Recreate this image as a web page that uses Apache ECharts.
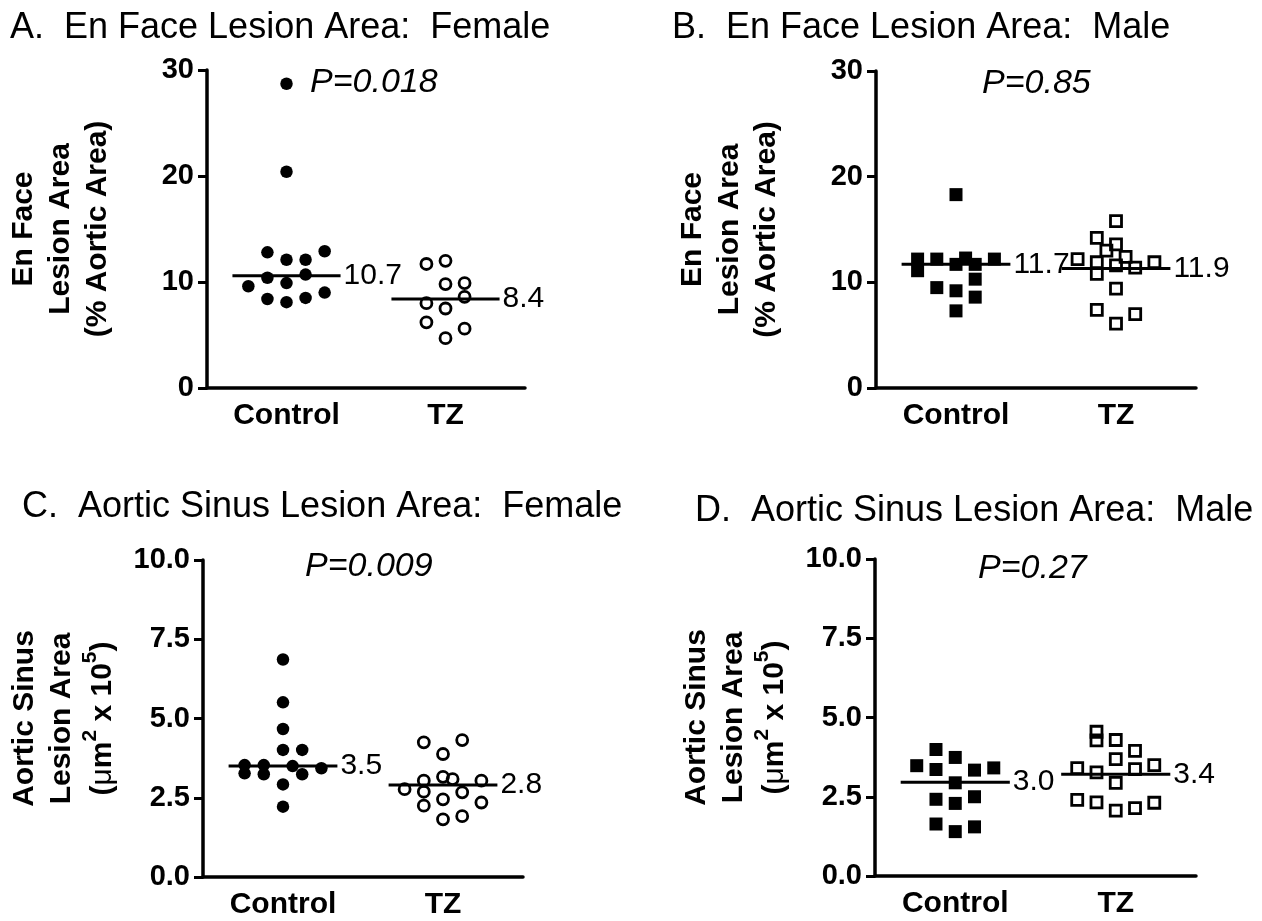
<!DOCTYPE html>
<html>
<head>
<meta charset="utf-8">
<title>Lesion Area</title>
<script src="https://cdn.jsdelivr.net/npm/echarts@6/dist/echarts.min.js"></script>
<style>
  html, body { margin: 0; padding: 0; background: #fff; }
  #chart { width: 1262px; height: 921px; }
</style>
</head>
<body>
<div id="chart"></div>
<script>
const groups = ["Control", "TZ"];

// A. en face, female (col = position in the dot column, 0 = centre)
const aCtrlVal = [28.7, 20.4, 12.8, 12.9, 12.1, 12.1, 10.4, 9.9, 10.7, 9.6, 8.4, 8.1, 8.5, 9.0];
const aCtrlCol = [0, 0, -1, 2, 0, 1, -1, 0, 1, -2, -1, 0, 1, 2];
const aTzVal = [11.7, 12.0, 9.8, 9.9, 8.6, 8.0, 7.5, 6.2, 5.6, 4.7];
const aTzCol = [-1, 0, 0, 1, 1, -1, 0, -1, 1, 0];
const aMedLine = [10.6, 8.4];
const aMedText = ["10.7", "8.4"];

// B. en face, male
const bCtrlVal = [18.3, 12.2, 12.2, 12.3, 12.2, 11.1, 11.7, 11.7, 10.3, 9.5, 9.2, 8.6, 7.3];
const bCtrlCol = [0, -2, -1, 0.5, 2, -2, 0, 1, 1, -1, 0, 1, 0];
const bTzVal = [15.8, 14.2, 13.6, 13.0, 12.4, 12.2, 11.9, 11.9, 11.6, 11.4, 10.8, 9.4, 7.4, 7.0, 6.1];
const bTzCol = [0, -1, 0, -0.5, 0.5, -2, 2, -1, 0, 1, -1, 0, -1, 1, 0];
const bMedLine = [11.7, 11.3];
const bMedText = ["11.7", "11.9"];

// C. aortic sinus, female
const cCtrlVal = [6.86, 5.51, 4.67, 4.01, 4.01, 3.53, 3.53, 3.27, 3.24, 3.50, 3.24, 3.43, 2.92, 2.22];
const cCtrlCol = [0, 0, 0, 0, 1, -2, -1, -2, -1, 0.5, 1, 2, 0, 0];
const cTzVal = [4.25, 4.32, 3.88, 3.16, 3.09, 3.04, 2.77, 3.04, 2.69, 2.67, 2.45, 2.35, 2.25, 1.82, 1.92];
const cTzCol = [-1, 1, 0, 0, 0.5, -1, -2, 2, -1, 1, 0, 2, -1, 0, 1];
const cMedLine = [3.5, 2.9];
const cMedText = ["3.5", "2.8"];

// D. aortic sinus, male
const dCtrlVal = [3.99, 3.74, 3.48, 3.36, 3.34, 3.41, 2.94, 2.42, 2.29, 2.50, 1.64, 1.40, 1.55];
const dCtrlCol = [-1, 0, -2, -1, 1, 2, 0, -1, 0, 1, -1, 0, 1];
const dTzVal = [4.55, 4.28, 4.29, 3.95, 3.69, 3.40, 3.27, 3.37, 3.50, 2.94, 2.40, 2.32, 2.06, 2.14, 2.31];
const dTzCol = [-1, -1, 0, 1, 0, -2, -1, 1, 2, 0, -2, -1, 0, 1, 2];
const dMedLine = [2.96, 3.21];
const dMedText = ["3.0", "3.4"];

const pTexts = ["P=0.018", "P=0.85", "P=0.009", "P=0.27"];
const titles = [
  "A.  En Face Lesion Area:  Female",
  "B.  En Face Lesion Area:  Male",
  "C.  Aortic Sinus Lesion Area:  Female",
  "D.  Aortic Sinus Lesion Area:  Male"
];

const FONT = "'Liberation Sans', Arial, Helvetica, sans-serif";
const COL_STEP = 0.12;
const HALF_LINE = 0.34;

const enFaceName = "En Face\nLesion Area\n(% Aortic Area)";
const sinusName = "Aortic Sinus\nLesion Area\n{c|(}{mu|μ}{c|m}{s|2}{c| x 10}{s|5}{c|)}";

const panels = [
  { ctrl: [aCtrlVal, aCtrlCol], tz: [aTzVal, aTzCol], med: aMedLine, medText: aMedText, yMax: 30, yStep: 10, digits: 0, shape: "circle", name: enFaceName, nameGap: 91,
    box: { left: 207, top: 70, width: 318, height: 318 }, title: [10, 10], p: [310, 66] },
  { ctrl: [bCtrlVal, bCtrlCol], tz: [bTzVal, bTzCol], med: bMedLine, medText: bMedText, yMax: 30, yStep: 10, digits: 0, shape: "rect", name: enFaceName, nameGap: 91,
    box: { left: 876, top: 71, width: 320, height: 317 }, title: [672, 10], p: [982, 67] },
  { ctrl: [cCtrlVal, cCtrlCol], tz: [cTzVal, cTzCol], med: cMedLine, medText: cMedText, yMax: 10, yStep: 2.5, digits: 1, shape: "circle", name: sinusName, nameGap: 77,
    box: { left: 203, top: 560, width: 320, height: 317 }, title: [22, 489], p: [305, 550] },
  { ctrl: [dCtrlVal, dCtrlCol], tz: [dTzVal, dTzCol], med: dMedLine, medText: dMedText, yMax: 10, yStep: 2.5, digits: 1, shape: "rect", name: sinusName, nameGap: 77,
    box: { left: 875, top: 559, width: 321, height: 317 }, title: [695, 493], p: [978, 552] }
];

function points(vals, cols, center) {
  return vals.map((v, i) => [center + cols[i] * COL_STEP, v]);
}

const option = {
  animation: false,
  backgroundColor: "#fff",
  title: [],
  grid: [],
  xAxis: [],
  yAxis: [],
  series: []
};

const axisLineStyle = { color: "#000", width: 3.5 };

panels.forEach((p, i) => {
  option.title.push({
    text: titles[i], left: p.title[0], top: p.title[1], padding: 0,
    textStyle: { fontFamily: FONT, fontSize: 36, fontWeight: "normal", color: "#000" }
  });
  option.title.push({
    text: pTexts[i], left: p.p[0], top: p.p[1], padding: 0,
    textStyle: { fontFamily: FONT, fontSize: 34, fontWeight: "normal", fontStyle: "italic", color: "#000" }
  });

  option.grid.push(Object.assign({ containLabel: false }, p.box));

  // visible category axis for labels and ticks
  option.xAxis.push({
    type: "category", gridIndex: i, data: groups,
    axisLine: { lineStyle: axisLineStyle },
    axisTick: { alignWithLabel: true, length: 9, lineStyle: { width: 3, color: "#000" } },
    axisLabel: { interval: 0, margin: 13, fontFamily: FONT, fontSize: 30, fontWeight: "bold", color: "#000" },
    splitLine: { show: false }
  });
  // hidden value axis that carries the dots
  option.xAxis.push({ type: "value", gridIndex: i, min: 0.5, max: 2.5, show: false });

  option.yAxis.push({
    type: "value", gridIndex: i, min: 0, max: p.yMax, interval: p.yStep,
    name: p.name, nameLocation: "middle", nameRotate: 90, nameGap: p.nameGap,
    nameTextStyle: {
      fontFamily: FONT, fontSize: 30, fontWeight: "bold", lineHeight: 37, color: "#000",
      rich: {
        c: { fontFamily: FONT, fontSize: 30, fontWeight: "bold", lineHeight: 46, color: "#000" },
        mu: { fontFamily: FONT, fontSize: 30, fontWeight: "normal", lineHeight: 46, color: "#000" },
        s: { fontFamily: FONT, fontSize: 21, fontWeight: "bold", lineHeight: 26, verticalAlign: "top", color: "#000" }
      }
    },
    axisLine: { show: true, lineStyle: axisLineStyle },
    axisTick: { show: true, length: 9, lineStyle: { width: 3, color: "#000" } },
    axisLabel: {
      margin: 13, fontFamily: FONT, fontSize: 29, fontWeight: "bold", color: "#000",
      formatter: v => v.toFixed(p.digits)
    },
    splitLine: { show: false }
  });

  const xIdx = i * 2 + 1;
  const filled = { color: "#000", opacity: 1 };
  const open = { color: "rgba(0,0,0,0)", borderColor: "#000", borderWidth: 2.8, opacity: 1 };

  option.series.push({
    type: "scatter", xAxisIndex: xIdx, yAxisIndex: i, z: 2,
    symbol: p.shape, symbolSize: p.shape === "rect" ? 13 : 12.5,
    itemStyle: filled,
    data: points(p.ctrl[0], p.ctrl[1], 1)
  });
  option.series.push({
    type: "scatter", xAxisIndex: xIdx, yAxisIndex: i, z: 2,
    symbol: p.shape, symbolSize: 11,
    itemStyle: open,
    data: points(p.tz[0], p.tz[1], 2)
  });

  [1, 2].forEach((center, g) => {
    option.series.push({
      type: "line", xAxisIndex: xIdx, yAxisIndex: i, z: 3,
      symbol: "none", silent: true,
      lineStyle: { color: "#000", width: 3 },
      data: [[center - HALF_LINE, p.med[g]], [center + HALF_LINE, p.med[g]]],
      endLabel: {
        show: true, distance: 3, formatter: p.medText[g],
        fontFamily: FONT, fontSize: 30, fontWeight: "normal", color: "#000"
      }
    });
  });
});

const chart = echarts.init(document.getElementById("chart"));
chart.setOption(option);
</script>
</body>
</html>
